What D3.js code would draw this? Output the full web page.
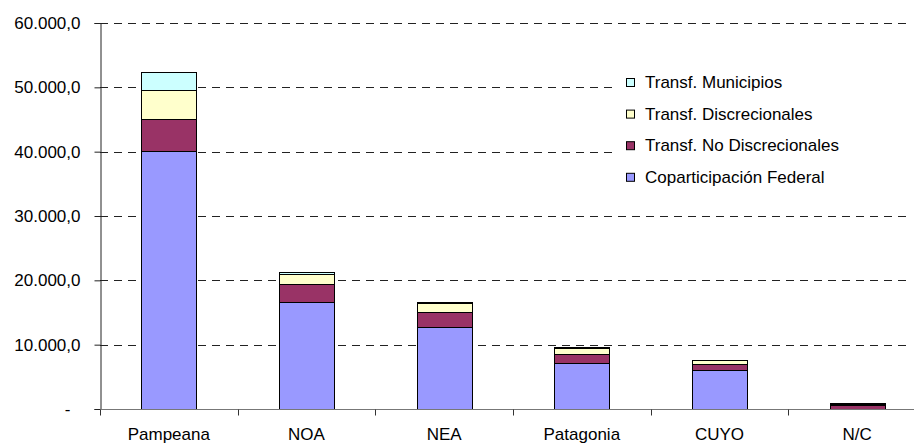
<!DOCTYPE html>
<html>
<head>
<meta charset="utf-8">
<script src="https://cdn.jsdelivr.net/npm/d3@7"></script>
<style>
  body { margin: 0; background: #fff; }
  text { font-family: "Liberation Sans", Arial, sans-serif; fill: #000; }
</style>
</head>
<body>
<div id="chart"></div>
<script>
// data
const categories = ["Pampeana", "NOA", "NEA", "Patagonia", "CUYO", "N/C"];
const coparticipacion = [40100, 16600, 12800, 7200, 6000, 0];
const noDiscrecionales = [5000, 2800, 2300, 1350, 950, 550];
const discrecionales = [4500, 1650, 1300, 950, 600, 200];
const municipios = [2850, 200, 200, 200, 80, 130];
const yTicks = [0, 10000, 20000, 30000, 40000, 50000, 60000];

const seriesKeys = ["cop", "nodisc", "disc", "muni"];
const seriesNames = {
  cop: "Coparticipación Federal",
  nodisc: "Transf. No Discrecionales",
  disc: "Transf. Discrecionales",
  muni: "Transf. Municipios"
};
const colors = { cop: "#9999FF", nodisc: "#993366", disc: "#FFFFCC", muni: "#CCFFFF" };

const rows = categories.map((c, i) => ({
  cat: c,
  cop: coparticipacion[i],
  nodisc: noDiscrecionales[i],
  disc: discrecionales[i],
  muni: municipios[i]
}));

// set the dimensions of the graph
const W = 914, H = 444;
const plot = {left: 100, right: 926, top: 23, bottom: 409};

const svg = d3.select("#chart")
  .append("svg")
    .attr("width", W)
    .attr("height", H);

const x = d3.scaleBand()
  .domain(categories)
  .range([plot.left, plot.right])
  .paddingInner(0.6)
  .paddingOuter(0.3);

const y = d3.scaleLinear()
  .domain([0, 60000])
  .range([plot.bottom, plot.top]);

// dashed grid lines
svg.append("g")
  .selectAll("line")
  .data(yTicks.filter(d => d > 0))
  .join("line")
    .attr("x1", plot.left)
    .attr("x2", 906)
    .attr("y1", d => Math.round(y(d)) + 0.5)
    .attr("y2", d => Math.round(y(d)) + 0.5)
    .attr("stroke", "#222")
    .attr("stroke-dasharray", "8,6");

// stacked bars
const stacked = d3.stack().keys(seriesKeys)(rows);

svg.append("g")
  .selectAll("g")
  .data(stacked)
  .join("g")
    .attr("fill", d => colors[d.key])
  .selectAll("rect")
  .data(d => d)
  .join("rect")
    .attr("x", d => Math.round(x(d.data.cat)) + 0.5)
    .attr("y", d => Math.round(y(d[1])) + 0.5)
    .attr("width", Math.round(x.bandwidth()))
    .attr("height", d => Math.max(0, Math.round(y(d[0])) - Math.round(y(d[1]))))
    .attr("stroke", "#000")
    .attr("stroke-width", 1);

// y axis
const fmt = d => d3.format(",.1f")(d).replace(/,/g, "#").replace(".", ",").replace(/#/g, ".");
const yAxis = svg.append("g")
  .attr("transform", `translate(${plot.left + 0.5},0)`)
  .call(d3.axisLeft(y)
    .tickValues(yTicks)
    .tickSize(6)
    .tickPadding(14)
    .tickFormat(d => d === 0 ? "-" : fmt(d)));
yAxis.select(".domain").attr("stroke", "#222");
yAxis.selectAll(".tick line").attr("stroke", "#222");
yAxis.selectAll("text")
  .style("font-size", "17px")
  .attr("dx", d => d === 0 ? -10 : 0);

// x axis
const xAxis = svg.append("g")
  .attr("transform", `translate(0,${plot.bottom + 0.5})`);
xAxis.append("line")
  .attr("x1", plot.left).attr("x2", W)
  .attr("stroke", "#777");
xAxis.selectAll(".sep")
  .data(d3.range(categories.length))
  .join("line")
    .attr("class", "sep")
    .attr("x1", i => Math.round(x(categories[i]) - x.step() * 0.3) + 0.5)
    .attr("x2", i => Math.round(x(categories[i]) - x.step() * 0.3) + 0.5)
    .attr("y1", 0).attr("y2", 6)
    .attr("stroke", "#333");
xAxis.selectAll(".lbl")
  .data(categories)
  .join("text")
    .attr("class", "lbl")
    .attr("x", d => x(d) + x.bandwidth() / 2)
    .attr("y", 30)
    .attr("text-anchor", "middle")
    .style("font-size", "17px")
    .text(d => d);

// legend with white background over the grid
svg.append("rect")
  .attr("x", 613).attr("y", 60)
  .attr("width", 294).attr("height", 136)
  .attr("fill", "#fff");

const legendOrder = ["muni", "disc", "nodisc", "cop"];
const legend = svg.append("g")
  .attr("transform", "translate(626,82)");
const item = legend.selectAll("g")
  .data(legendOrder)
  .join("g")
    .attr("transform", (d, i) => `translate(0,${i * 31.6})`);
item.append("rect")
  .attr("x", 0.5).attr("y", -3.5)
  .attr("width", 8).attr("height", 8)
  .attr("fill", d => colors[d])
  .attr("stroke", "#000");
item.append("text")
  .attr("x", 19)
  .attr("y", 6)
  .style("font-size", "17px")
  .text(d => seriesNames[d]);
</script>
</body>
</html>
